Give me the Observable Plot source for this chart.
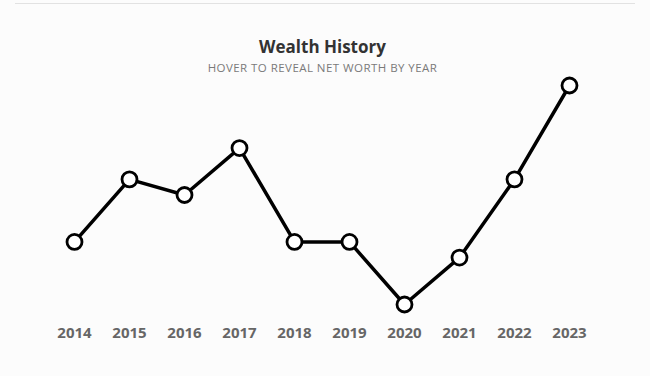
<!DOCTYPE html>
<html>
<head>
<meta charset="utf-8">
<script src="https://cdn.jsdelivr.net/npm/d3@7"></script>
<script src="https://cdn.jsdelivr.net/npm/@observablehq/plot@0.6"></script>
<style>
  html, body { margin: 0; padding: 0; background: #fcfcfc; }
  body { width: 650px; height: 376px; position: relative; overflow: hidden; font-family: "Open Sans", sans-serif; }
  #rule { position: absolute; left: 15px; top: 3px; width: 620px; height: 1px; background: #e2e2e2; }
  #title { position: absolute; left: 0; width: 645px; top: 36px; text-align: center; font-size: 17px; font-weight: 700; color: #333; line-height: 22px; }
  #subtitle { position: absolute; left: 0; width: 645px; top: 61px; text-align: center; font-size: 11.5px; color: #7a7a7a; letter-spacing: 0.45px; line-height: 14px; }
  #chart { position: absolute; left: 0; top: 75px; }
</style>
</head>
<body>
<div id="rule"></div>
<div id="title">Wealth History</div>
<div id="subtitle">HOVER TO REVEAL NET WORTH BY YEAR</div>
<div id="chart"></div>
<script>
const years = ["2014", "2015", "2016", "2017", "2018", "2019", "2020", "2021", "2022", "2023"];
const netWorth = [160, 220, 205, 250, 160, 160, 100, 145, 220, 310]; // thousands (estimated)

const data = years.map((y, i) => ({year: y, value: netWorth[i]}));

const chart = Plot.plot({
  width: 650,
  height: 301,
  marginLeft: 73,
  marginRight: 80,
  marginTop: 10,
  marginBottom: 72,
  style: {background: "transparent", overflow: "visible"},
  x: {type: "point", domain: years, padding: 0, label: null},
  y: {domain: [100, 310], axis: null},
  marks: [
    Plot.axisX({tickSize: 0, tickPadding: 23, fontSize: 15, fontWeight: 700, fill: "#666", fontFamily: "Open Sans, sans-serif", label: null}),
    Plot.line(data, {x: "year", y: "value", stroke: "#000", strokeWidth: 3.5, curve: "linear"}),
    Plot.dot(data, {x: "year", y: "value", r: 7.5, fill: "#fff", stroke: "#000", strokeWidth: 2.8})
  ]
});
document.getElementById("chart").appendChild(chart);
</script>
</body>
</html>
